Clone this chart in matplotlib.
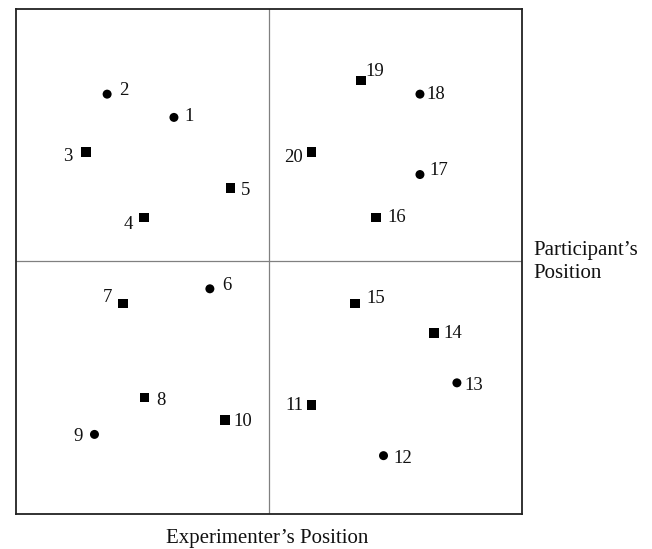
import matplotlib
matplotlib.use("Agg")
import matplotlib.pyplot as plt

# Data (0-100 on each axis, quadrant boundaries at 50)
labels = [str(i) for i in range(1, 21)]
x_vals = [31.3, 18.1, 13.9, 25.4, 42.5, 38.4, 21.2, 25.5, 15.6, 41.4,
          58.5, 72.7, 87.2, 82.7, 67.1, 71.2, 79.9, 79.9, 68.3, 58.5]
y_vals = [78.5, 83.1, 71.6, 58.7, 64.5, 44.6, 41.7, 23.1, 15.8, 18.7,
          21.6, 11.6, 26.0, 35.8, 41.7, 58.7, 67.2, 83.1, 85.8, 71.6]
shapes = ["o", "o", "s", "s", "s", "o", "s", "s", "o", "s",
          "s", "o", "o", "s", "s", "s", "o", "o", "s", "s"]
x_title = "Experimenter\u2019s Position"
y_title = "Participant\u2019s\nPosition"

# Label offsets (style, in pixels)
label_dx = [15, 17, -18, -16, 15, 17, -15, 16, -16, 18,
            -17, 19, 17, 19, 21, 21, 19, 16, 14, -18]
label_dy = [1, 4, -4, -7, -2, 3, 6, -3, -2, -2,
            0, -3, -3, 0, 5, 0, 4, 0, 9, -5]

plt.rcParams['font.family'] = ['Liberation Serif', 'DejaVu Serif']

fig = plt.figure(figsize=(6.52, 5.49), dpi=100)
ax = fig.add_axes([15.5 / 652, 1 - 514.3 / 549, 506.2 / 652, 505.6 / 549])
ax.set_xlim(0, 100)
ax.set_ylim(0, 100)
ax.set_xticks([])
ax.set_yticks([])
for s in ax.spines.values():
    s.set_linewidth(1.3)
    s.set_color("#222222")

ax.axvline(50, color="#808080", lw=0.9, zorder=1)
ax.axhline(50, color="#808080", lw=0.9, zorder=1)

for xi, yi, m, lab, dx, dy in zip(x_vals, y_vals, shapes, labels, label_dx, label_dy):
    ax.scatter([xi], [yi], marker=m, s=42 if m == "o" else 48, color="black",
               edgecolors="none", zorder=3)
    ax.annotate(lab, (xi, yi), xytext=(dx, dy), textcoords="offset pixels",
                ha="center", va="center", fontsize=13.5, color="#111111")

fig.text(267 / 652, 1 - 539 / 549, x_title, ha="center", va="center",
         fontsize=15, color="#111111")
fig.text(533 / 652, 1 - 262 / 549, y_title, ha="left", va="center",
         fontsize=15, color="#111111", linespacing=1.3)

fig.savefig("out.png", dpi=100)
